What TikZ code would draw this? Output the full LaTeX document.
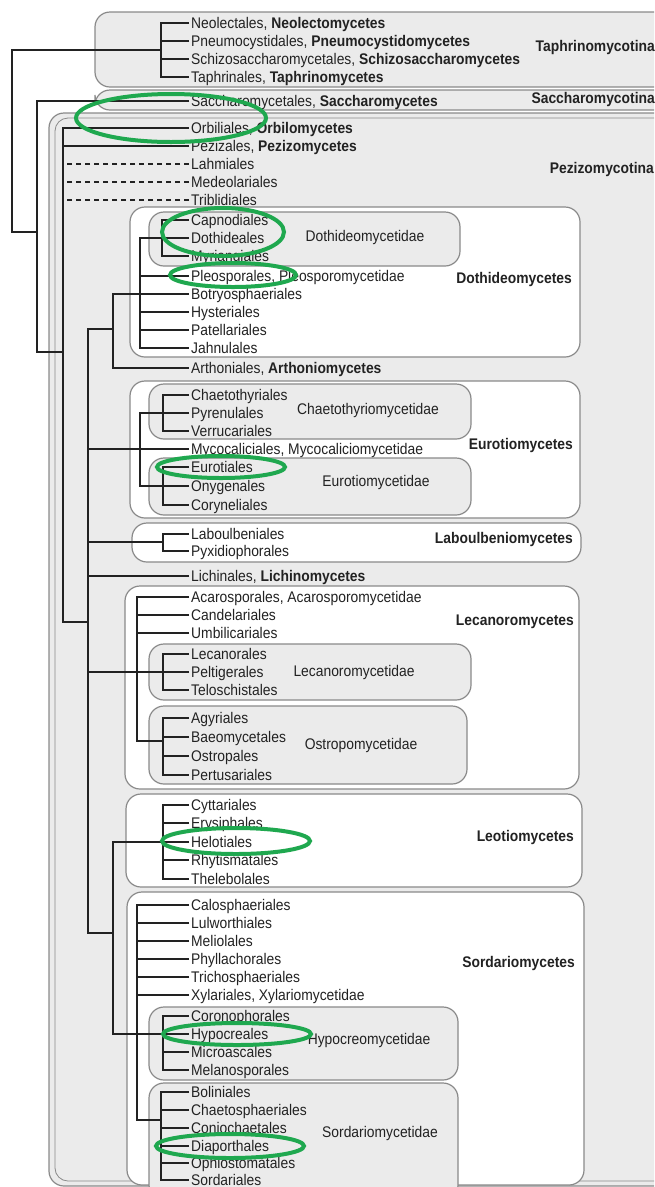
\documentclass[tikz,border=0pt]{standalone}
\usepackage{fontspec}
\setmainfont{Liberation Sans}[FakeStretch=0.9]
\definecolor{boxgray}{HTML}{EBEBEB}
\definecolor{edgegray}{HTML}{8A8A8A}
\definecolor{hl}{HTML}{1FA84F}
\definecolor{ink}{HTML}{222222}
\newcommand\myleaf[3]{\node[leaf] (#1) at (189,#2) {#3};}
\begin{document}
\begin{tikzpicture}[x=1pt,y=-1pt,
  every node/.style={font=\fontsize{15.4}{18}\selectfont, text=ink},
  leaf/.style={anchor=west, inner xsep=2pt, inner ysep=0pt, text height=11pt, text depth=0pt},
  cls/.style={anchor=east, inner sep=0pt, font=\fontsize{15.4}{18}\selectfont\bfseries},
  subcl/.style={inner sep=0pt},
  gbox/.style={rounded corners=15pt, fill=boxgray, draw=edgegray, line width=1.2pt},
  wbox/.style={rounded corners=15pt, fill=white, draw=edgegray, line width=1.2pt},
  br/.style={line width=1.3pt, draw=ink},
  dsh/.style={line width=1.3pt, draw=ink, dash pattern=on 5pt off 4pt},
  hilite/.style={line width=4pt, draw=hl}]
\useasboundingbox (0,0) rectangle (654,1187);
\clip (0,0) rectangle (654,1187);
% subphylum boxes
\draw[gbox] (95,12) rectangle (720,87);
\draw[gbox] (95,90) rectangle (720,110);
\draw[gbox] (49,113) rectangle (720,1186);
\draw[edgegray, line width=0.8pt, rounded corners=13pt] (55,118) rectangle (720,1181);
% class boxes
\draw[wbox] (130,207) rectangle (580,357);
\draw[wbox] (130,381) rectangle (580,518);
\draw[wbox] (132,523) rectangle (581,562);
\draw[wbox] (125,586) rectangle (579,789);
\draw[wbox] (126,794) rectangle (582,887);
\draw[wbox] (127,892) rectangle (584,1185);
% subclass boxes
\draw[gbox] (149,212) rectangle (460,266);
\draw[gbox] (149,384) rectangle (471,439);
\draw[gbox] (149,458) rectangle (471,515);
\draw[gbox] (149,644) rectangle (471,700);
\draw[gbox] (149,706) rectangle (467,784);
\draw[gbox] (149,1007) rectangle (458,1080);
\draw[gbox] (149,1083) rectangle (458,1200);
% labels of groups
\node[cls] (Ltaph) at (655,48) {Taphrinomycotina};
\node[cls] (Lsacc) at (655,100) {Saccharomycotina};
\node[cls] (Lpezi) at (654,170) {Pezizomycotina};
\node[cls] (Ldoth) at (572,280) {Dothideomycetes};
\node[cls] (Leuro) at (573,446) {Eurotiomycetes};
\node[cls] (Llabo) at (573,540) {Laboulbeniomycetes};
\node[cls] (Lleca) at (574,622) {Lecanoromycetes};
\node[cls] (Lleot) at (574,838) {Leotiomycetes};
\node[cls] (Lsord) at (575,964) {Sordariomycetes};
\node[subcl] (Sdoth) at (365,238) {Dothideomycetidae};
\node[subcl] (Schae) at (368,411) {Chaetothyriomycetidae};
\node[subcl] (Seuro) at (376,483) {Eurotiomycetidae};
\node[subcl] (Sleca) at (354,673) {Lecanoromycetidae};
\node[subcl] (Sostr) at (361,746) {Ostropomycetidae};
\node[subcl] (Shypo) at (369,1041) {Hypocreomycetidae};
\node[subcl] (Ssord) at (380,1134) {Sordariomycetidae};
% leaves
\myleaf{neo}{23}{Neolectales, \textbf{Neolectomycetes}}
\myleaf{pne}{41}{Pneumocystidales, \textbf{Pneumocystidomycetes}}
\myleaf{sch}{59}{Schizosaccharomycetales, \textbf{Schizosaccharomycetes}}
\myleaf{tap}{77}{Taphrinales, \textbf{Taphrinomycetes}}
\myleaf{sac}{101}{Saccharomycetales, \textbf{Saccharomycetes}}
\myleaf{orb}{128}{Orbiliales, \textbf{Orbilomycetes}}
\myleaf{pez}{146}{Pezizales, \textbf{Pezizomycetes}}
\myleaf{lah}{164}{Lahmiales}
\myleaf{med}{182}{Medeolariales}
\myleaf{tri}{200}{Triblidiales}
\myleaf{cap}{220}{Capnodiales}
\myleaf{dot}{238}{Dothideales}
\myleaf{myr}{256}{Myriangiales}
\myleaf{ple}{276}{Pleosporales, Pleosporomycetidae}
\myleaf{bot}{294}{Botryosphaeriales}
\myleaf{hys}{312}{Hysteriales}
\myleaf{pat}{330}{Patellariales}
\myleaf{jah}{348}{Jahnulales}
\myleaf{art}{368}{Arthoniales, \textbf{Arthoniomycetes}}
\myleaf{cha}{395}{Chaetothyriales}
\myleaf{pyr}{413}{Pyrenulales}
\myleaf{ver}{431}{Verrucariales}
\myleaf{myc}{449}{Mycocaliciales, Mycocaliciomycetidae}
\myleaf{eur}{467}{Eurotiales}
\myleaf{ony}{486}{Onygenales}
\myleaf{cor}{505}{Coryneliales}
\myleaf{lab}{534}{Laboulbeniales}
\myleaf{pyx}{551}{Pyxidiophorales}
\myleaf{lic}{576}{Lichinales, \textbf{Lichinomycetes}}
\myleaf{aca}{597}{Acarosporales, Acarosporomycetidae}
\myleaf{can}{615}{Candelariales}
\myleaf{umb}{633}{Umbilicariales}
\myleaf{lec}{654}{Lecanorales}
\myleaf{pel}{672}{Peltigerales}
\myleaf{tel}{690}{Teloschistales}
\myleaf{agy}{718}{Agyriales}
\myleaf{bae}{737}{Baeomycetales}
\myleaf{ost}{756}{Ostropales}
\myleaf{per}{775}{Pertusariales}
\myleaf{cyt}{805}{Cyttariales}
\myleaf{ery}{823}{Erysiphales}
\myleaf{hel}{842}{Helotiales}
\myleaf{rhy}{860}{Rhytismatales}
\myleaf{the}{879}{Thelebolales}
\myleaf{cal}{905}{Calosphaeriales}
\myleaf{lul}{923}{Lulworthiales}
\myleaf{mel}{941}{Meliolales}
\myleaf{phy}{959}{Phyllachorales}
\myleaf{trs}{977}{Trichosphaeriales}
\myleaf{xyl}{995}{Xylariales, Xylariomycetidae}
\myleaf{crn}{1016}{Coronophorales}
\myleaf{hyp}{1034}{Hypocreales}
\myleaf{mic}{1052}{Microascales}
\myleaf{mla}{1070}{Melanosporales}
\myleaf{bol}{1092}{Boliniales}
\myleaf{chs}{1110}{Chaetosphaeriales}
\myleaf{con}{1128}{Coniochaetales}
\myleaf{dia}{1146}{Diaporthales}
\myleaf{oph}{1163}{Ophiostomatales}
\myleaf{sor}{1180}{Sordariales}
% internal nodes
\coordinate (tA) at (161,50);
\coordinate (R) at (12,141);
\coordinate (n2) at (37,232);
\coordinate (n3) at (63,352);
\coordinate (n4) at (88,622);
\coordinate (dz) at (66,0);
\coordinate (n5) at (113,329);
\coordinate (dC) at (140,294);
\coordinate (dS) at (162,238);
\coordinate (eC) at (140,449);
\coordinate (cS) at (163,413);
\coordinate (eS) at (163,486);
\coordinate (lb) at (163,542);
\coordinate (lC) at (137,672);
\coordinate (lcd) at (163,672);
\coordinate (oS) at (163,741);
\coordinate (n8) at (113,933);
\coordinate (leo) at (163,842);
\coordinate (hS) at (163,1034);
\coordinate (sC) at (137,1034);
\coordinate (sS) at (161,1120);
% tree
\draw[br] (neo.west) -| (tA) |- (tap.west);
\draw[br] (pne.west) -- (tA |- pne.west);
\draw[br] (sch.west) -- (tA |- sch.west);
\draw[br] (tA) -| (R) |- (n2);
\draw[br] (sac.west) -| (n2) |- (n3);
\draw[br] (orb.west) -| (n3) |- (n4);
\draw[br] (pez.west) -- (n3 |- pez.west);
\draw[dsh] (lah.west) -- (dz |- lah.west);
\draw[dsh] (med.west) -- (dz |- med.west);
\draw[dsh] (tri.west) -- (dz |- tri.west);
\draw[br] (n5) -| (n4) |- (n8);
\draw[br] (dC) -| (n5) |- (art.west);
\draw[br] (bot.west) -- (dC);
\draw[br] (dS) -| (dC) |- (jah.west);
\draw[br] (ple.west) -- (dC |- ple.west);
\draw[br] (hys.west) -- (dC |- hys.west);
\draw[br] (pat.west) -- (dC |- pat.west);
\draw[br] (cap.west) -| (dS) |- (myr.west);
\draw[br] (dot.west) -- (dS |- dot.west);
\draw[br] (myc.west) -- (n4 |- myc.west);
\draw[br] (cS) -| (eC) |- (eS);
\draw[br] (cha.west) -| (cS) |- (ver.west);
\draw[br] (pyr.west) -- (cS |- pyr.west);
\draw[br] (eur.west) -| (eS) |- (cor.west);
\draw[br] (ony.west) -- (eS |- ony.west);
\draw[br] (lb) -- (n4 |- lb);
\draw[br] (lab.west) -| (lb) |- (pyx.west);
\draw[br] (lic.west) -- (n4 |- lic.west);
\draw[br] (lcd) -- (n4 |- lcd);
\draw[br] (aca.west) -| (lC) |- (oS);
\draw[br] (can.west) -- (lC |- can.west);
\draw[br] (umb.west) -- (lC |- umb.west);
\draw[br] (lec.west) -| (lcd) |- (tel.west);
\draw[br] (pel.west) -- (lcd |- pel.west);
\draw[br] (agy.west) -| (oS) |- (per.west);
\draw[br] (bae.west) -- (oS |- bae.west);
\draw[br] (ost.west) -- (oS |- ost.west);
\draw[br] (leo) -| (n8) |- (hS);
\draw[br] (cyt.west) -| (leo) |- (the.west);
\draw[br] (ery.west) -- (leo |- ery.west);
\draw[br] (hel.west) -- (leo |- hel.west);
\draw[br] (rhy.west) -- (leo |- rhy.west);
\draw[br] (crn.west) -| (hS) |- (mla.west);
\draw[br] (hyp.west) -- (hS |- hyp.west);
\draw[br] (mic.west) -- (hS |- mic.west);
\draw[br] (cal.west) -| (sC) |- (sS);
\draw[br] (lul.west) -- (sC |- lul.west);
\draw[br] (mel.west) -- (sC |- mel.west);
\draw[br] (phy.west) -- (sC |- phy.west);
\draw[br] (trs.west) -- (sC |- trs.west);
\draw[br] (xyl.west) -- (sC |- xyl.west);
\draw[br] (bol.west) -| (sS) |- (sor.west);
\draw[br] (chs.west) -- (sS |- chs.west);
\draw[br] (con.west) -- (sS |- con.west);
\draw[br] (dia.west) -- (sS |- dia.west);
\draw[br] (oph.west) -- (sS |- oph.west);
% highlights
\draw[hilite] (171,118) ellipse [x radius=95pt, y radius=24pt];
\draw[hilite] (223,232) ellipse [x radius=61pt, y radius=24pt];
\draw[hilite] (233,275) ellipse [x radius=63pt, y radius=12pt];
\draw[hilite] (221,467) ellipse [x radius=64pt, y radius=11pt];
\draw[hilite] (236,841) ellipse [x radius=74pt, y radius=13pt];
\draw[hilite] (237,1034) ellipse [x radius=74pt, y radius=11pt];
\draw[hilite] (230,1146) ellipse [x radius=74pt, y radius=12pt];
\end{tikzpicture}
\end{document}
